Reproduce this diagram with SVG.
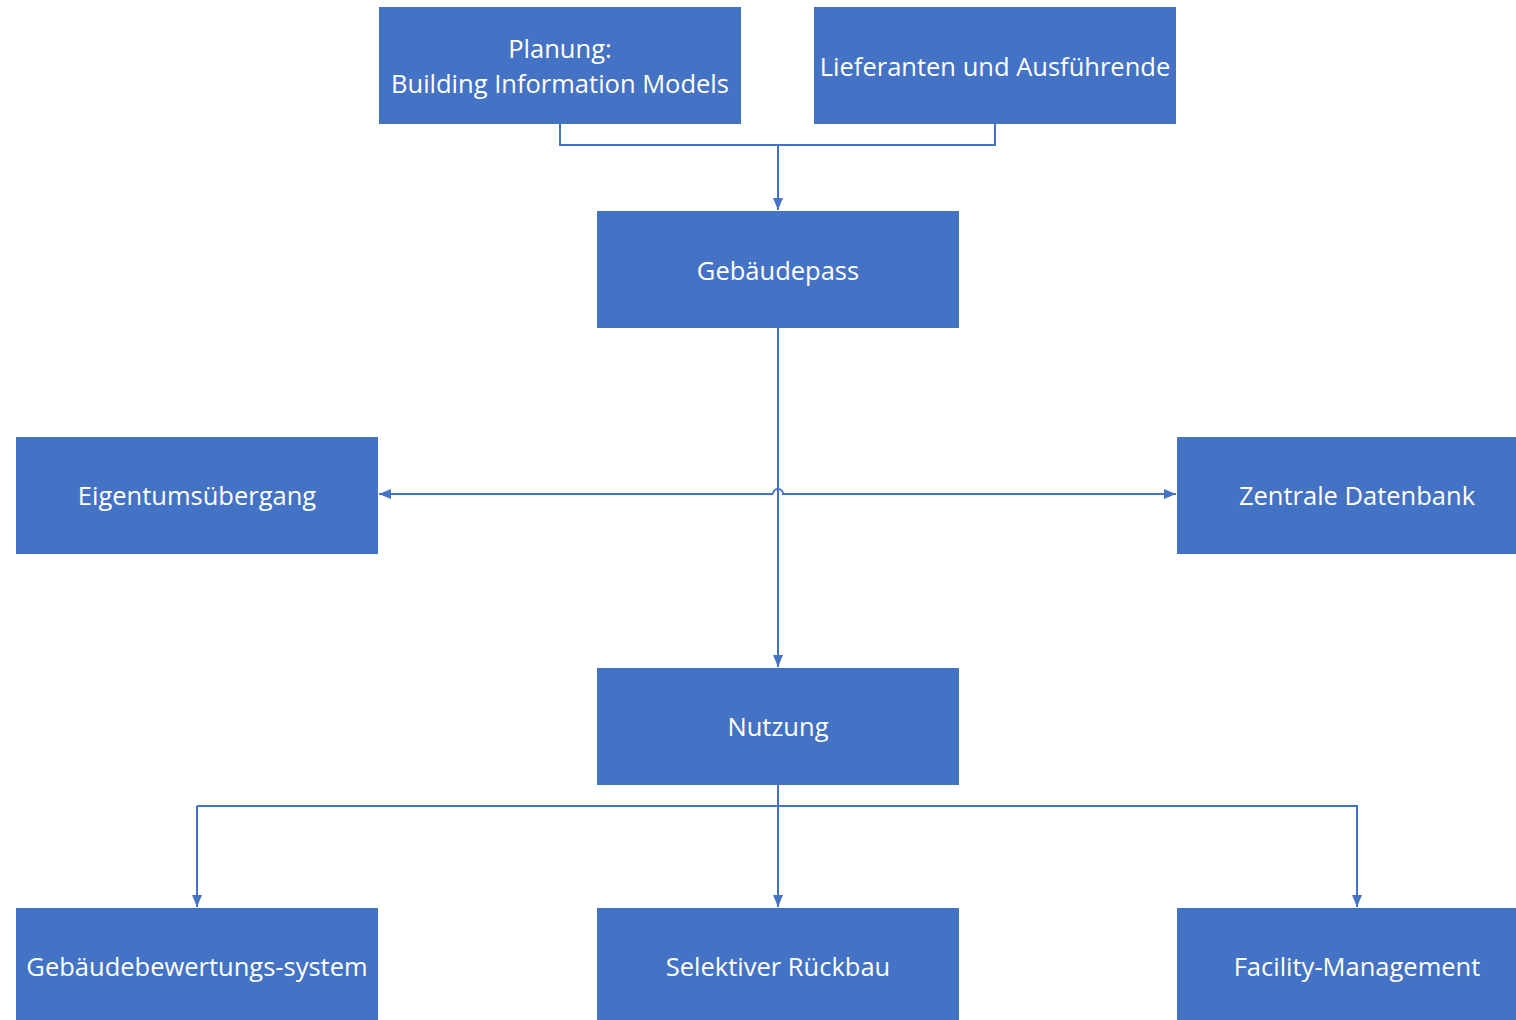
<svg xmlns="http://www.w3.org/2000/svg" width="1516" height="1020" viewBox="0 0 1516 1020">
<style>
.box{fill:#4472C4;}
.lbl{font-family:"Open Sans","Noto Sans",sans-serif;font-size:25.5px;fill:#ffffff;text-anchor:middle;dominant-baseline:central;}
.con{fill:none;stroke:#4472C4;stroke-width:2;}
</style>
<defs>
<marker id="arr" viewBox="0 0 12 10" refX="12" refY="5" markerWidth="12" markerHeight="10" orient="auto" markerUnits="userSpaceOnUse">
<path d="M0,0 L12,5 L0,10 z" fill="#4472C4"/>
</marker>
</defs>
<rect width="1516" height="1020" fill="#ffffff"/>
<g id="connectors">
<path class="con" d="M560,124 V145 H995 V124"/>
<path class="con" d="M778,145 V210" marker-end="url(#arr)"/>
<path class="con" d="M778,328 V667" marker-end="url(#arr)"/>
<path class="con" d="M773,494 H379" marker-end="url(#arr)"/>
<path class="con" d="M773,494 A5,5 0 0 1 783,494 H1176" marker-end="url(#arr)"/>
<path class="con" d="M778,785 V907" marker-end="url(#arr)"/>
<path class="con" d="M197,806 H1357 V907" marker-end="url(#arr)"/>
<path class="con" d="M197,806 V907" marker-end="url(#arr)"/>
</g>
<g id="node-planung"><rect class="box" x="379" y="7" width="362" height="117"/><text class="lbl" x="560" y="48">Planung:</text><text class="lbl" x="560" y="83">Building Information Models</text></g>
<g id="node-lieferanten"><rect class="box" x="814" y="7" width="362" height="117"/><text class="lbl" x="995" y="66">Lieferanten und Ausführende</text></g>
<g id="node-gebaeudepass"><rect class="box" x="597" y="211" width="362" height="117"/><text class="lbl" x="778" y="270">Gebäudepass</text></g>
<g id="node-eigentum"><rect class="box" x="16" y="437" width="362" height="117"/><text class="lbl" x="197" y="495">Eigentumsübergang</text></g>
<g id="node-zentrale"><rect class="box" x="1177" y="437" width="362" height="117"/><text class="lbl" x="1357" y="495">Zentrale Datenbank</text></g>
<g id="node-nutzung"><rect class="box" x="597" y="668" width="362" height="117"/><text class="lbl" x="778" y="726">Nutzung</text></g>
<g id="node-bewertung"><rect class="box" x="16" y="908" width="362" height="117"/><text class="lbl" x="197" y="966">Gebäudebewertungs-system</text></g>
<g id="node-rueckbau"><rect class="box" x="597" y="908" width="362" height="117"/><text class="lbl" x="778" y="966">Selektiver Rückbau</text></g>
<g id="node-facility"><rect class="box" x="1177" y="908" width="362" height="117"/><text class="lbl" x="1357" y="966">Facility-Management</text></g>
</svg>
